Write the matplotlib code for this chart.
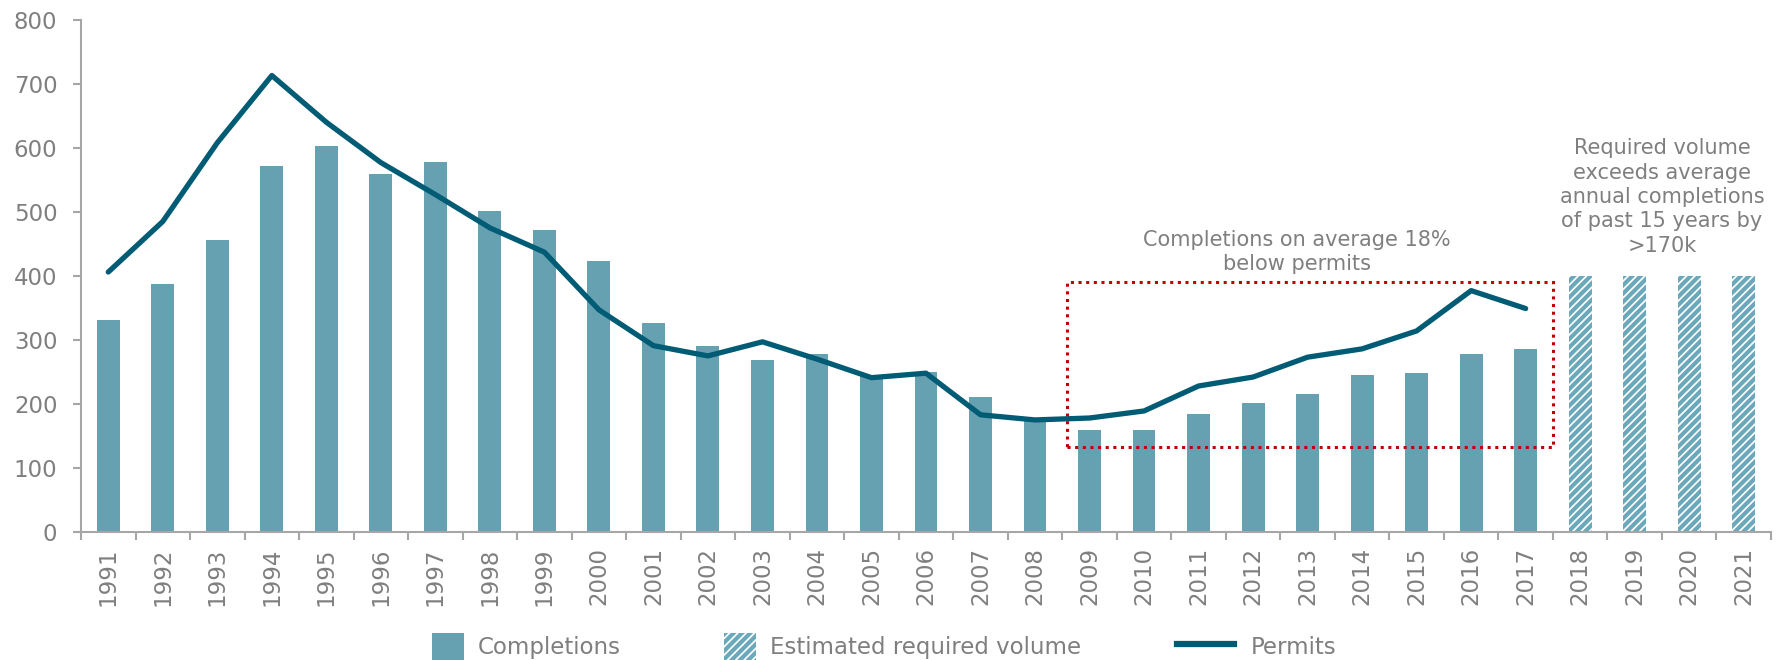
import numpy as np
import matplotlib.pyplot as plt
from matplotlib.patches import Patch, Rectangle
from matplotlib.lines import Line2D

plt.rcParams['font.family'] = ['DejaVu Sans']
plt.rcParams['hatch.linewidth'] = 3.0

years = [str(y) for y in range(1991, 2022)]
completions = [331, 387, 456, 572, 603, 559, 578, 501, 472, 423,
               326, 290, 269, 278, 244, 250, 211, 178, 160, 160,
               184, 201, 215, 245, 248, 278, 286]
estimated = [400, 400, 400, 400]
permits = [406, 485, 608, 713, 640, 577, 527, 475, 437, 347,
           291, 275, 297, 270, 241, 248, 183, 175, 178, 189,
           228, 242, 273, 286, 314, 377, 349]

bar_col = '#66a1b2'
hatch_col = '#6aa8ba'
line_col = '#005b75'
grey = '#7f7f7f'
axis_grey = '#a6a6a6'

fig = plt.figure(figsize=(17.77, 6.6), dpi=100)
ax = fig.add_axes([0.0456, 0.194, 0.951, 0.776])

x = np.arange(len(years))
nc = len(completions)
ax.bar(x[:nc], completions, width=0.42, color=bar_col, linewidth=0)
ax.bar(x[nc:], estimated, width=0.42, facecolor='white', edgecolor=hatch_col,
       hatch='////', linewidth=0)
ax.plot(x[:nc], permits, color=line_col, lw=3.8, solid_capstyle='round')

# dotted highlight box
ax.add_patch(Rectangle((17.58, 133), 26.5 - 17.58, 390 - 133, fill=False,
                       edgecolor='#c00000', linestyle=(0, (1, 1.5)), lw=2.2))

ax.text(21.8, 403, 'Completions on average 18%\nbelow permits', ha='center',
        va='bottom', color=grey, fontsize=15, linespacing=1.25)
ax.text(28.5, 615, 'Required volume\nexceeds average\nannual completions\nof past 15 years by\n>170k',
        ha='center', va='top', color=grey, fontsize=15, linespacing=1.27)

ax.set_xlim(-0.5, len(years) - 0.5)
ax.set_ylim(0, 800)
ax.set_yticks(range(0, 801, 100))
ax.set_xticks(x)
ax.set_xticklabels(years, rotation=90)
ax.set_xticks(np.arange(-0.5, len(years), 1), minor=True)
ax.tick_params(axis='x', which='major', length=0, pad=11)
ax.tick_params(axis='x', which='minor', length=6, color=axis_grey, width=1.5)
ax.tick_params(axis='y', length=6, color=axis_grey, width=1.5, pad=11)
ax.tick_params(labelsize=16.5, labelcolor=grey)
for s in ['top', 'right']:
    ax.spines[s].set_visible(False)
for s in ['left', 'bottom']:
    ax.spines[s].set_color(axis_grey)
    ax.spines[s].set_linewidth(1.5)

# legend: one entry per legend so the handles can differ in width
entries = [
    (Patch(facecolor=bar_col, linewidth=0), 'Completions', 432, 1.4, 0.6),
    (Patch(facecolor='white', edgecolor=hatch_col, hatch='////', linewidth=0),
     'Estimated required volume', 724, 1.4, 0.6),
    (Line2D([0], [0], color=line_col, lw=4.5), 'Permits', 1177, 2.5, 0.7),
]
for h, lab, xpx, hl, tp in entries:
    leg = fig.legend([h], [lab], loc='center left',
                     bbox_to_anchor=(xpx / 1777, 0.02), frameon=False,
                     fontsize=16.5, handlelength=hl, handleheight=1.5,
                     handletextpad=tp, borderpad=0, borderaxespad=0)
    for t in leg.get_texts():
        t.set_color(grey)

fig.savefig('out.png', dpi=100)
